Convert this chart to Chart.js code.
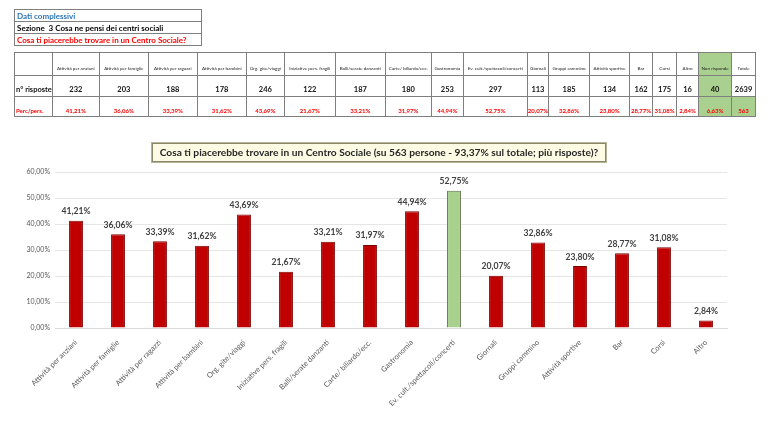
<!DOCTYPE html>
<html><head><meta charset="utf-8">
<script src="https://cdn.jsdelivr.net/npm/chart.js@4.4.1/dist/chart.umd.min.js"></script>
<style>
html,body{margin:0;padding:0;background:#fff;width:768px;height:432px;overflow:hidden;font-family:"Lato","Open Sans",sans-serif;}
#c{position:absolute;left:0;top:0;}
.info{position:absolute;left:14px;top:9px;border-collapse:collapse;}
.info td{border:1px solid #7f7f7f;font-size:8px;font-weight:bold;height:11px;padding:0 2px;width:182px;line-height:10px;}
#tbl{position:absolute;left:14px;top:52px;border-collapse:collapse;table-layout:fixed;}
#tbl td{border:1px solid #7f7f7f;text-align:center;vertical-align:bottom;padding:0 0 2px 0;overflow:hidden;white-space:nowrap;}
#tbl tr.h td{height:18px;font-size:4.6px;color:#222;padding-bottom:4px;}
#tbl tr.n td{height:18px;font-size:7.5px;font-weight:bold;color:#111;padding-bottom:2px;}
#tbl tr.p td{height:17px;font-size:6px;font-weight:bold;color:#ff0000;padding-bottom:2px;}
#tbl td.lab{text-align:left;color:#111;font-weight:bold;font-size:7px;padding-left:1px;}
#tbl td.g{background:#a9d08e;}
#title{position:absolute;left:152px;top:143px;width:452px;height:17px;background:#fdfbe3;border:1px solid #8a8868;box-shadow:0 0 0 1px #b5b39a;font-size:10.2px;color:#262626;font-weight:bold;text-align:center;line-height:17px;white-space:nowrap;}
</style></head>
<body>
<canvas id="c" width="768" height="432"></canvas>
<table class="info">
<tr><td style="color:#2e75b6">Dati complessivi</td></tr>
<tr><td style="color:#000">Sezione&nbsp; 3 Cosa ne pensi dei centri sociali</td></tr>
<tr><td style="color:#ff0000">Cosa ti piacerebbe trovare in un Centro Sociale?</td></tr>
</table>
<table id="tbl"></table>
<div id="title">Cosa ti piacerebbe trovare in un Centro Sociale (su 563 persone - 93,37% sul totale; più risposte)?</div>
<script>
const categories = ["Attività per anziani","Attività per famiglie","Attività per ragazzi","Attività per bambini","Org. gite/viaggi","Iniziative pers. fragili","Balli/serate danzanti","Carte/ biliardo/ecc.","Gastronomia","Ev. cult./spettacoli/concerti","Giornali","Gruppi cammino","Attività sportive","Bar","Corsi","Altro"];
const percents = [41.21,36.06,33.39,31.62,43.69,21.67,33.21,31.97,44.94,52.75,20.07,32.86,23.80,28.77,31.08,2.84];
const counts = [232,203,188,178,246,122,187,180,253,297,113,185,134,162,175,16];
const tableExtraCols = ["Non risponde","Totale"];
const tableExtraCounts = [40,2639];
const tableExtraPerc = ["6,63%","563"];
const yTicks = [0,10,20,30,40,50,60];
const highlightIndex = 9;

const colWidths = [34,47,49,49,49,38,51,50,46,32,64,21,41,40,23,24,22,33,24];
const fmt = v => v.toFixed(2).replace('.',',') + '%';

// table
(function(){
  const t = document.getElementById('tbl');
  const cg = document.createElement('colgroup');
  colWidths.forEach(w=>{const c=document.createElement('col');c.style.width=w+'px';cg.appendChild(c);});
  t.appendChild(cg);
  const heads = categories.concat(tableExtraCols);
  const ns = counts.concat(tableExtraCounts);
  const ps = percents.map(fmt).concat(tableExtraPerc);
  const rh = document.createElement('tr'); rh.className='h';
  const rn = document.createElement('tr'); rn.className='n';
  const rp = document.createElement('tr'); rp.className='p';
  let td = document.createElement('td'); rh.appendChild(td);
  td = document.createElement('td'); td.className='lab'; td.textContent='n° risposte'; rn.appendChild(td);
  td = document.createElement('td'); td.className='lab'; td.textContent='Perc/pers.'; rp.appendChild(td);
  heads.forEach((h,i)=>{
    const g = (i===16);
    let a=document.createElement('td'); a.textContent=h; if(g)a.className='g'; rh.appendChild(a);
    let b=document.createElement('td'); b.textContent=ns[i]; if(g)b.className='g'; rn.appendChild(b);
    let c=document.createElement('td'); c.textContent=ps[i]; if(g||i===17)c.className='g'; rp.appendChild(c);
  });
  t.appendChild(rh);t.appendChild(rn);t.appendChild(rp);
})();

const barColors = percents.map((v,i)=> i===highlightIndex ? '#a9d18e' : '#c00000');
const borderColors = percents.map((v,i)=> i===highlightIndex ? '#5a6e4a' : '#7a0000');

const valueLabels = {
  id:'valueLabels',
  afterDatasetsDraw(chart){
    const ctx = chart.ctx;
    const meta = chart.getDatasetMeta(0);
    ctx.save();
    ctx.font = 'bold 8.6px "Lato","Open Sans",sans-serif';
    ctx.fillStyle = '#404040';
    ctx.textAlign = 'center';
    ctx.textBaseline = 'bottom';
    meta.data.forEach((el,i)=>{
      ctx.fillText(fmt(percents[i]), el.x, el.y - 5);
    });
    ctx.restore();
  }
};

new Chart(document.getElementById('c'), {
  type:'bar',
  data:{labels:categories, datasets:[{data:percents, backgroundColor:barColors, borderColor:borderColors, borderWidth:1, barPercentage:0.33, categoryPercentage:1}]},
  options:{
    responsive:false, animation:false,
    layout:{padding:{top:172,left:0,right:41,bottom:0}},
    plugins:{legend:{display:false}, tooltip:{enabled:false}},
    scales:{
      x:{
        grid:{display:false},
        border:{display:true,color:'#d9d9d9',width:1},
        ticks:{minRotation:45,maxRotation:45,autoSkip:false,color:'#595959',font:{size:7.5,family:'"Lato","Open Sans",sans-serif'},padding:2},
        afterFit(a){a.height=104;}
      },
      y:{
        min:0,max:60,
        afterBuildTicks(a){a.ticks = yTicks.map(v=>({value:v}));},
        grid:{color:'#e6e6e6',drawTicks:false},
        border:{display:false},
        ticks:{color:'#595959',font:{size:7,family:'"Lato","Open Sans",sans-serif'},padding:5,callback:v=>fmt(v)},
        afterFit(a){a.width=55;}
      }
    }
  },
  plugins:[valueLabels]
});
</script>
</body></html>
